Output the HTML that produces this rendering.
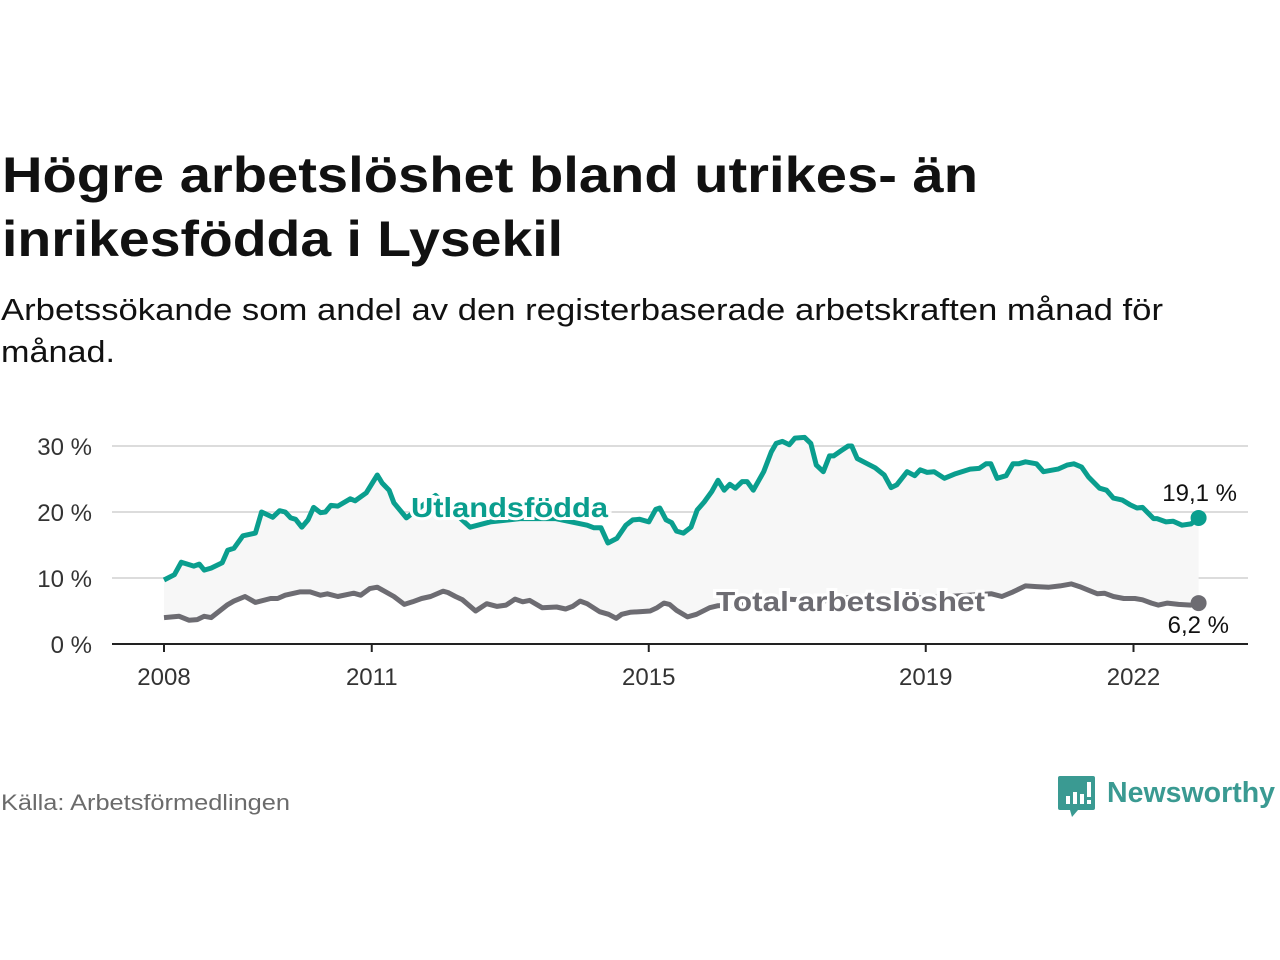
<!DOCTYPE html>
<html><head><meta charset="utf-8"><style>
html,body{margin:0;padding:0;background:#fff;}
svg{display:block;font-family:"Liberation Sans",sans-serif;}
</style></head><body>
<svg width="1280" height="960" viewBox="0 0 1280 960">
<text x="2" y="192" font-size="50" font-weight="bold" fill="#111" textLength="976" lengthAdjust="spacingAndGlyphs">Högre arbetslöshet bland utrikes- än</text>
<text x="2" y="256" font-size="50" font-weight="bold" fill="#111" textLength="561" lengthAdjust="spacingAndGlyphs">inrikesfödda i Lysekil</text>
<text x="1" y="320" font-size="31" fill="#111" textLength="1162" lengthAdjust="spacingAndGlyphs">Arbetssökande som andel av den registerbaserade arbetskraften månad för</text>
<text x="1" y="362" font-size="31" fill="#111" textLength="114" lengthAdjust="spacingAndGlyphs">månad.</text>
<g id="plot"></g>
<text x="1" y="810" font-size="22" fill="#6b6b6b" textLength="289" lengthAdjust="spacingAndGlyphs">Källa: Arbetsförmedlingen</text>
<g>
<path d="M1060 776 h33 a2 2 0 0 1 2 2 v30 a2 2 0 0 1 -2 2 h-15 l-6 7 l-2 -7 h-10 a2 2 0 0 1 -2 -2 v-30 a2 2 0 0 1 2 -2z" fill="#3a9a92"/>
<rect x="1066" y="796" width="4" height="8" fill="#fff"/><rect x="1073" y="792" width="4" height="12" fill="#fff"/><rect x="1080" y="794" width="4" height="10" fill="#fff"/><rect x="1087" y="782" width="4" height="15" fill="#fff"/><rect x="1087" y="800" width="4" height="4" fill="#fff"/>
<text x="1107" y="802" font-size="29" font-weight="bold" fill="#3a9a92" textLength="168" lengthAdjust="spacingAndGlyphs">Newsworthy</text>
</g>
</svg>
<script>
const utYears=[2008.0,2008.15,2008.25,2008.43,2008.51,2008.58,2008.68,2008.84,2008.92,2009.01,2009.14,2009.32,2009.41,2009.57,2009.67,2009.75,2009.83,2009.90,2009.99,2010.08,2010.16,2010.26,2010.33,2010.41,2010.51,2010.69,2010.76,2010.92,2011.08,2011.15,2011.25,2011.32,2011.50,2011.92,2012.42,2012.71,2013.14,2013.65,2014.11,2014.21,2014.31,2014.41,2014.54,2014.67,2014.77,2014.87,2015.0,2015.10,2015.16,2015.25,2015.33,2015.40,2015.50,2015.61,2015.70,2015.80,2015.91,2016.0,2016.09,2016.17,2016.25,2016.35,2016.42,2016.51,2016.66,2016.77,2016.84,2016.93,2017.03,2017.11,2017.25,2017.34,2017.42,2017.52,2017.61,2017.67,2017.78,2017.88,2017.93,2018.01,2018.14,2018.27,2018.40,2018.50,2018.58,2018.73,2018.84,2018.92,2019.02,2019.12,2019.27,2019.43,2019.64,2019.77,2019.87,2019.94,2020.03,2020.16,2020.26,2020.34,2020.44,2020.60,2020.70,2020.91,2021.04,2021.14,2021.25,2021.35,2021.51,2021.61,2021.71,2021.84,2021.95,2022.05,2022.13,2022.29,2022.34,2022.47,2022.57,2022.70,2022.83,2022.94];
const utValues=[9.7,10.5,12.4,11.8,12.1,11.2,11.5,12.3,14.2,14.5,16.4,16.8,20,19.2,20.2,20,19.1,18.9,17.7,18.8,20.7,19.9,20,21,20.9,22,21.7,22.9,25.6,24.4,23.3,21.4,19.1,22.5,17.7,18.5,19,19,18,17.6,17.6,15.3,16,18,18.8,18.9,18.5,20.4,20.6,18.8,18.4,17.1,16.8,17.7,20.3,21.5,23.1,24.8,23.3,24.2,23.6,24.6,24.6,23.3,26.1,29.1,30.4,30.7,30.2,31.2,31.3,30.4,27.1,26.1,28.5,28.5,29.3,30,30,28.1,27.4,26.7,25.6,23.7,24.1,26.1,25.5,26.4,26,26.1,25.1,25.8,26.5,26.6,27.3,27.3,25.1,25.5,27.3,27.3,27.6,27.3,26.1,26.5,27.1,27.3,26.8,25.3,23.6,23.3,22.1,21.8,21.1,20.6,20.7,19.0,19.0,18.5,18.6,18.0,18.2,19.1];
const totYears=[2008.0,2008.22,2008.36,2008.48,2008.58,2008.68,2008.91,2009.01,2009.17,2009.32,2009.54,2009.64,2009.75,2009.96,2010.11,2010.26,2010.36,2010.51,2010.74,2010.84,2010.97,2011.08,2011.32,2011.47,2011.59,2011.72,2011.85,2012.03,2012.10,2012.21,2012.31,2012.50,2012.66,2012.81,2012.94,2013.07,2013.18,2013.28,2013.46,2013.67,2013.80,2013.90,2014.01,2014.11,2014.29,2014.42,2014.53,2014.61,2014.73,2014.86,2015.02,2015.12,2015.22,2015.30,2015.40,2015.56,2015.69,2015.88,2016.0,2016.5,2017.0,2017.5,2018.0,2018.5,2019.0,2019.5,2019.95,2020.1,2020.26,2020.44,2020.6,2020.78,2020.94,2021.1,2021.22,2021.34,2021.48,2021.58,2021.71,2021.86,2022.02,2022.13,2022.26,2022.36,2022.49,2022.65,2022.83,2022.94];
const totValues=[4.0,4.2,3.6,3.7,4.2,4.0,5.9,6.5,7.2,6.3,6.9,6.9,7.4,7.9,7.9,7.4,7.6,7.2,7.7,7.4,8.4,8.6,7.2,6.0,6.4,6.9,7.2,8.0,7.8,7.2,6.7,5.0,6.1,5.7,5.9,6.8,6.4,6.6,5.5,5.6,5.3,5.7,6.5,6.1,4.9,4.5,3.9,4.5,4.8,4.9,5.0,5.5,6.2,6.0,5.1,4.1,4.5,5.5,5.8,6.0,6.8,6.5,7.2,6.8,7.0,7.3,7.6,7.2,7.9,8.8,8.7,8.6,8.8,9.1,8.7,8.2,7.6,7.7,7.2,6.9,6.9,6.7,6.2,5.9,6.2,6.0,5.9,6.2];
const yTicks=[0,10,20,30];
const yTickLabels=["0 %","10 %","20 %","30 %"];
const xTicks=[2008,2011,2015,2019,2022];
const xTickLabels=["2008","2011","2015","2019","2022"];
const NS="http://www.w3.org/2000/svg";
const g=document.getElementById('plot');
const X=v=>164+(v-2008)*69.25;
const Y=v=>644-v*6.6;
function mk(t,a,p){const e=document.createElementNS(NS,t);for(const k in a)e.setAttribute(k,a[k]);(p||g).appendChild(e);return e;}
yTicks.forEach((t,i)=>{
 const l=mk('line',{x1:112,x2:1248,y1:Y(t),y2:Y(t),stroke:t===0?'#222':'#dcdcdc','stroke-width':2});
 
 
 const tx=mk('text',{x:92,y:Y(t)+9,'font-size':24,'text-anchor':'end',fill:'#333'});
 tx.textContent=yTickLabels[i];
 
 
});
xTicks.forEach((t,i)=>{
 const l=mk('line',{x1:X(t),x2:X(t),y1:644,y2:652,stroke:'#222','stroke-width':2});
 
 
 const tx=mk('text',{x:X(t),y:685,'font-size':24,'text-anchor':'middle',fill:'#333'});
 tx.textContent=xTickLabels[i];
 
 
});
const up=utYears.map((d,i)=>X(d).toFixed(1)+','+Y(utValues[i]).toFixed(1));
const tp=totYears.map((d,i)=>X(d).toFixed(1)+','+Y(totValues[i]).toFixed(1));
const area=mk('polygon',{points:up.concat(tp.slice().reverse()).join(' '),fill:'#f7f7f7'});


const l1=mk('polyline',{points:tp.join(' '),fill:'none',stroke:'#6d6c72','stroke-width':5,'stroke-linejoin':'round'});


const l2=mk('polyline',{points:up.join(' '),fill:'none',stroke:'#0a9e8e','stroke-width':5,'stroke-linejoin':'round'});


function lab(x,y,txt,col,w,name){
 const t=mk('text',{x:x,y:y,'font-size':28,'font-weight':'bold',fill:col,stroke:'#fff','stroke-width':6,'paint-order':'stroke',textLength:w,lengthAdjust:'spacingAndGlyphs'});
 t.textContent=txt;
 
 
}
lab(411,517,'Utlandsfödda','#0a9e8e',197,'utlandsfodda-label');
lab(716,611,'Total arbetslöshet','#6d6c72',269,'total-label');
const lu=utYears.length-1,lt=totYears.length-1;
const d1=mk('circle',{cx:X(utYears[lu]),cy:Y(utValues[lu]),r:8,fill:'#0a9e8e'});


const d2=mk('circle',{cx:X(totYears[lt]),cy:Y(totValues[lt]),r:8,fill:'#6d6c72'});


const v1=mk('text',{x:1237,y:Y(utValues[lu])-17,'font-size':24,'text-anchor':'end',fill:'#111'});
v1.textContent=String(utValues[lu]).replace('.',',')+' %';


const v2=mk('text',{x:1229,y:Y(totValues[lt])+30,'font-size':24,'text-anchor':'end',fill:'#111'});
v2.textContent=String(totValues[lt]).replace('.',',')+' %';


</script>
</body></html>
